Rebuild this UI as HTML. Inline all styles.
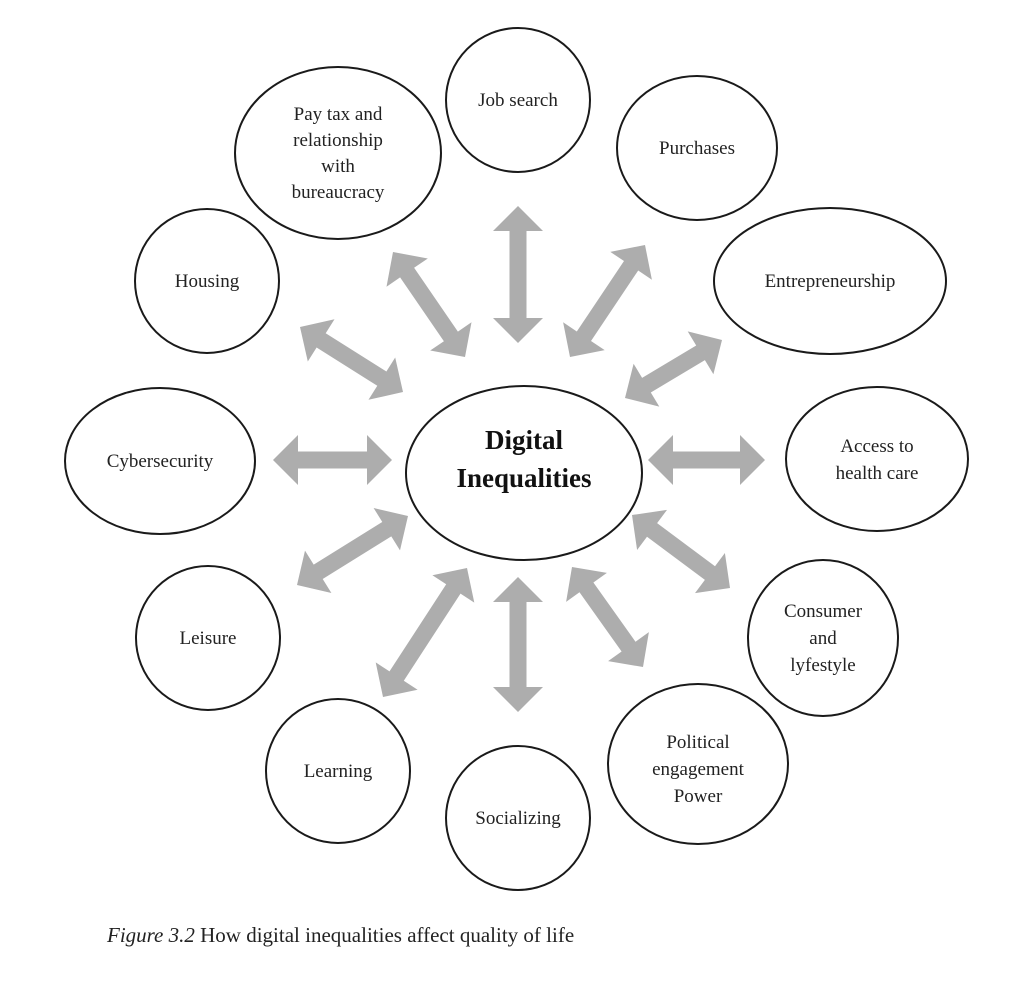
<!DOCTYPE html>
<html><head><meta charset="utf-8"><style>
html,body{margin:0;padding:0;background:#fff;width:1024px;height:992px;overflow:hidden}
svg{display:block}
text{font-family:"Liberation Serif",serif;font-size:19px;fill:#222}
</style></head><body>
<svg id="s" width="1024" height="992" viewBox="0 0 1024 992" xmlns="http://www.w3.org/2000/svg">
<g fill="none" stroke="#1a1a1a" stroke-width="2">
<ellipse cx="524" cy="473" rx="118" ry="87"/>
<ellipse cx="518" cy="100" rx="72" ry="72"/>
<ellipse cx="338" cy="153" rx="103" ry="86"/>
<ellipse cx="697" cy="148" rx="80" ry="72"/>
<ellipse cx="207" cy="281" rx="72" ry="72"/>
<ellipse cx="830" cy="281" rx="116" ry="73"/>
<ellipse cx="160" cy="461" rx="95" ry="73"/>
<ellipse cx="877" cy="459" rx="91" ry="72"/>
<ellipse cx="208" cy="638" rx="72" ry="72"/>
<ellipse cx="823" cy="638" rx="75" ry="78"/>
<ellipse cx="338" cy="771" rx="72" ry="72"/>
<ellipse cx="518" cy="818" rx="72" ry="72"/>
<ellipse cx="698" cy="764" rx="90" ry="80"/>
</g>
<g id="arr" fill="#adadad"></g>
<g text-anchor="middle">
<text x="524" y="449" style="font-size:27px;font-weight:bold;fill:#111">Digital</text>
<text x="524" y="487" style="font-size:27px;font-weight:bold;fill:#111">Inequalities</text>
<text x="518" y="106">Job search</text>
<text x="338" y="120">Pay tax and</text>
<text x="338" y="146">relationship</text>
<text x="338" y="172">with</text>
<text x="338" y="198">bureaucracy</text>
<text x="697" y="154">Purchases</text>
<text x="207" y="287">Housing</text>
<text x="830" y="287">Entrepreneurship</text>
<text x="160" y="467">Cybersecurity</text>
<text x="877" y="452">Access to</text>
<text x="877" y="479">health care</text>
<text x="208" y="644">Leisure</text>
<text x="823" y="617">Consumer</text>
<text x="823" y="644">and</text>
<text x="823" y="671">lyfestyle</text>
<text x="338" y="777">Learning</text>
<text x="518" y="824">Socializing</text>
<text x="698" y="748">Political</text>
<text x="698" y="775">engagement</text>
<text x="698" y="802">Power</text>
</g>
<text x="107" y="942" style="font-size:21px"><tspan font-style="italic">Figure 3.2</tspan>  How digital inequalities affect quality of life</text>
</svg>
<script>
var A=[[518,206,518,343],[393,252,465,357],[645,245,570,357],[300,327,403,392],[722,340,625,398],[273,460,392,460],[648,460,765,460],[297,585,408,516],[632,515,730,588],[383,697,467,568],[518,577,518,712],[572,567,643,667]];
var g=document.getElementById('arr'),h='';
A.forEach(function(a){var dx=a[2]-a[0],dy=a[3]-a[1],L=Math.hypot(dx,dy),ux=dx/L,uy=dy/L,px=-uy,py=ux,hl=25,hw=25,sw=8.5;
var pts=[[0,0],[hl,hw],[hl,sw],[L-hl,sw],[L-hl,hw],[L,0],[L-hl,-hw],[L-hl,-sw],[hl,-sw],[hl,-hw]];
h+='<polygon points="'+pts.map(function(p){return (a[0]+ux*p[0]+px*p[1]).toFixed(1)+','+(a[1]+uy*p[0]+py*p[1]).toFixed(1)}).join(' ')+'"/>';});
g.innerHTML=h;
</script>
</body></html>
